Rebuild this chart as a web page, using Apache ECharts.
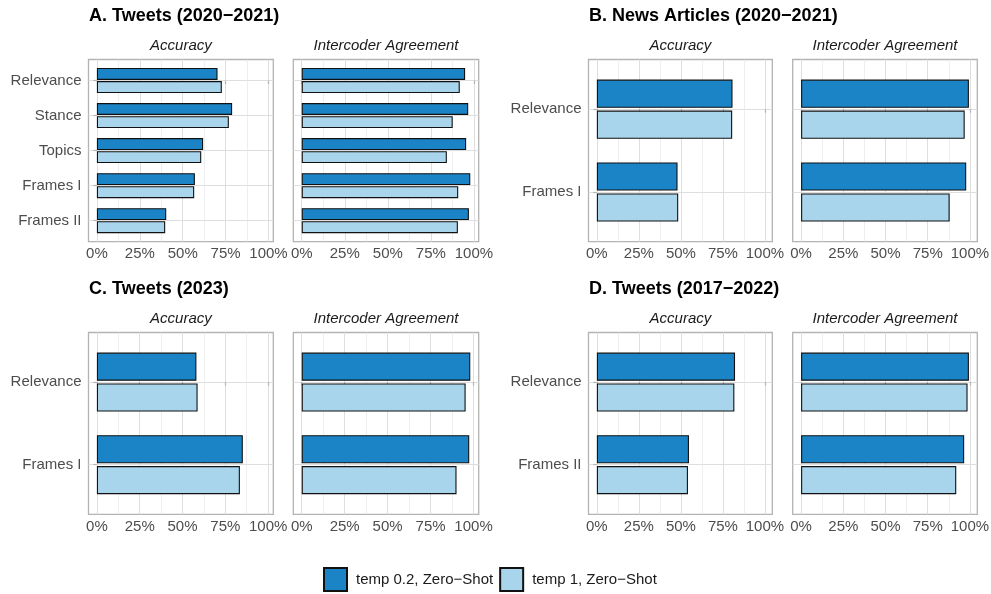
<!DOCTYPE html>
<html>
<head>
<meta charset="utf-8">
<script src="https://cdn.jsdelivr.net/npm/echarts@6/dist/echarts.min.js"></script>
<style>html,body{margin:0;padding:0;background:#fff}#c{width:991px;height:594px}</style>
</head>
<body>
<div id="c"></div>
<script>
// ---------------- data ----------------
const seriesNames = ['temp 0.2, Zero\u2212Shot', 'temp 1, Zero\u2212Shot'];
const facetNames = ['Accuracy', 'Intercoder Agreement'];
const xTickValues = [0, 25, 50, 75, 100];
const xMinorValues = [12.5, 37.5, 62.5, 87.5];

const titleA = 'A. Tweets (2020\u22122021)';
const catsA = ['Relevance', 'Stance', 'Topics', 'Frames I', 'Frames II'];
const accA_t02 = [70.3, 78.8, 61.9, 57.1, 40.4];
const accA_t1  = [72.8, 76.9, 60.8, 56.7, 39.8];
const agrA_t02 = [94.9, 96.7, 95.5, 97.9, 97.1];
const agrA_t1  = [91.8, 87.7, 84.3, 90.9, 90.7];

const titleB = 'B. News Articles (2020\u22122021)';
const catsB = ['Relevance', 'Frames I'];
const accB_t02 = [80.7, 48.0];
const accB_t1  = [80.5, 48.4];
const agrB_t02 = [99.4, 97.8];
const agrB_t1  = [96.9, 88.0];

const titleC = 'C. Tweets (2023)';
const catsC = ['Relevance', 'Frames I'];
const accC_t02 = [58.1, 85.2];
const accC_t1  = [58.8, 83.5];
const agrC_t02 = [98.1, 97.5];
const agrC_t1  = [95.4, 90.1];

const titleD = 'D. Tweets (2017\u22122022)';
const catsD = ['Relevance', 'Frames II'];
const accD_t02 = [82.2, 54.8];
const accD_t1  = [81.8, 54.2];
const agrD_t02 = [99.4, 96.6];
const agrD_t1  = [98.6, 91.9];

// ---------------- layout ----------------
const FONT = '"Liberation Sans", Arial, Helvetica, sans-serif';
const COLORS = ['#1B84C6', '#A8D5EC'];
const COLS = [[[88.5, 273.3], [293.3, 478.7]], [[588.5, 772.3], [792.7, 977.3]]];
const ROWS = [[59.5, 241.7], [332.5, 514.3]];
const TITLE_Y = [16.5, 289];
const STRIP_Y = [46, 319];

const groups = [
  {title: titleA, cats: catsA, facets: [[accA_t02, accA_t1], [agrA_t02, agrA_t1]], col: 0, row: 0},
  {title: titleB, cats: catsB, facets: [[accB_t02, accB_t1], [agrB_t02, agrB_t1]], col: 1, row: 0},
  {title: titleC, cats: catsC, facets: [[accC_t02, accC_t1], [agrC_t02, agrC_t1]], col: 0, row: 1},
  {title: titleD, cats: catsD, facets: [[accD_t02, accD_t1], [agrD_t02, agrD_t1]], col: 1, row: 1}
];

const grids = [], xAxes = [], yAxes = [], series = [], graphics = [];

groups.forEach(g => {
  const all = [].concat(...g.facets.map(f => [].concat(...f)));
  const dmax = Math.max(...all);
  const xmin = -0.05 * dmax, xmax = 1.05 * dmax;
  const N = g.cats.length;
  const [y0, y1] = ROWS[g.row];
  const H = y1 - y0;
  const unit = H / (N + 0.2);
  const idx = g.cats.map((c, i) => i);

  graphics.push({
    type: 'text', x: COLS[g.col][0][0] + 0.5, y: TITLE_Y[g.row],
    style: {text: g.title, fill: '#000', font: 'bold 18px ' + FONT, align: 'left', verticalAlign: 'middle'}
  });

  g.facets.forEach((vals, fi) => {
    const [x0, x1] = COLS[g.col][fi];
    const showY = fi === 0;
    // frame grid
    const fg = grids.length;
    grids.push({left: x0, top: y0, width: x1 - x0, height: H, show: true,
      borderColor: '#b3b3b3', borderWidth: 1.3, backgroundColor: 'rgba(0,0,0,0)',
      containLabel: false, outerBoundsMode: 'none'});
    xAxes.push({
      type: 'value', gridIndex: fg, min: xmin, max: xmax, position: 'bottom',
      axisLine: {show: false},
      axisTick: {show: true, customValues: xTickValues, length: 3.5, lineStyle: {color: '#b3b3b3', width: 1.2}},
      axisLabel: {show: true, customValues: xTickValues, formatter: v => v + '%', color: '#4d4d4d',
        fontSize: 15, fontFamily: FONT, margin: 5},
      splitLine: {show: true, lineStyle: {color: '#dedede', width: 1}}
    });
    xAxes.push({
      type: 'value', gridIndex: fg, min: xmin, max: xmax, position: 'bottom',
      axisLine: {show: false},
      axisTick: {show: false, customValues: xMinorValues},
      axisLabel: {show: false},
      splitLine: {show: true, lineStyle: {color: '#e6e6e6', width: 0.7}}
    });
    yAxes.push({
      type: 'value', gridIndex: fg, min: -0.6, max: N - 0.4, inverse: true,
      axisLine: {show: false},
      axisTick: {show: showY, customValues: idx, length: 3.5, lineStyle: {color: '#b3b3b3', width: 1.2}},
      axisLabel: {show: showY, customValues: idx, formatter: v => g.cats[Math.round(v)], color: '#4d4d4d',
        fontSize: 15, fontFamily: FONT, margin: 7},
      splitLine: {show: true, lineStyle: {color: '#dedede', width: 1}}
    });
    // bar grid
    const bg = grids.length;
    grids.push({left: x0, top: y0 + 0.1 * unit, width: x1 - x0, height: H - 0.2 * unit, show: false,
      containLabel: false, outerBoundsMode: 'none'});
    xAxes.push({type: 'value', gridIndex: bg, min: xmin, max: xmax, show: false});
    yAxes.push({type: 'category', gridIndex: bg, data: g.cats, inverse: true, show: false});
    vals.forEach((arr, si) => {
      series.push({
        type: 'bar', name: seriesNames[si], xAxisIndex: xAxes.length - 1, yAxisIndex: yAxes.length - 1,
        data: arr, barWidth: '34%', barGap: '10%',
        itemStyle: {color: COLORS[si], borderColor: '#111', borderWidth: 1.1},
        emphasis: {disabled: true}
      });
    });

    graphics.push({
      type: 'text', x: (x0 + x1) / 2, y: STRIP_Y[g.row],
      style: {text: facetNames[fi], fill: '#1a1a1a', font: 'italic 15px ' + FONT, align: 'center', verticalAlign: 'middle'}
    });
  });
});

const chart = echarts.init(document.getElementById('c'), null, {renderer: 'canvas'});
chart.setOption({
  animation: false,
  backgroundColor: '#fff',
  grid: grids,
  xAxis: xAxes,
  yAxis: yAxes,
  series: series,
  graphic: graphics,
  legend: {
    data: seriesNames.map(n => ({name: n, icon: 'rect'})),
    left: 323, top: 567, padding: 0, itemWidth: 23, itemHeight: 23, itemGap: 6,
    textStyle: {fontSize: 15, color: '#1a1a1a', fontFamily: FONT, padding: [0, 0, 0, 4]}
  }
});
</script>
</body>
</html>
